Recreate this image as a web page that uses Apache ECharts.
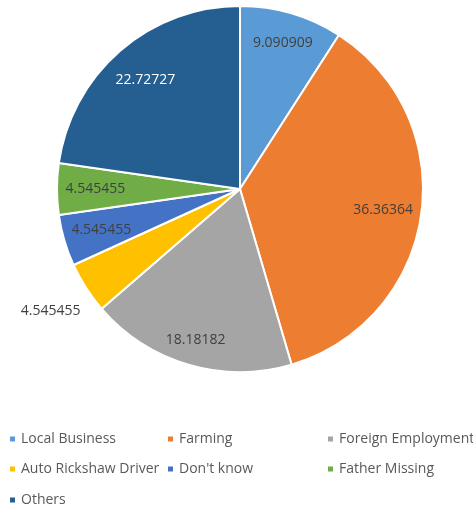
<!DOCTYPE html>
<html><head><meta charset="utf-8">
<script src="https://cdn.jsdelivr.net/npm/echarts@6/dist/echarts.min.js"></script>
<style>html,body{margin:0;padding:0;background:#fff}#c{width:473px;height:506px}</style>
</head><body><div id="c"></div>
<script>
const categories = ['Local Business','Farming','Foreign Employment','Auto Rickshaw Driver',"Don't know",'Father Missing','Others'];
const values = [9.090909, 36.36364, 18.18182, 4.545455, 4.545455, 4.545455, 22.72727];

const colors = ['#5B9BD5','#ED7D31','#A5A5A5','#FFC000','#4472C4','#70AD47','#255E91'];
const labelColors = ['#404040','#404040','#404040','#404040','#404040','#404040','#FFFFFF'];
const CX = 240, CY = 189, R = 183;
// label distance from center, as fraction of radius
const labelDist = [0.83, 0.79, 0.86, 1.23, 0.79, 0.79, 0.79];
const legendCols = [8, 166, 326];
const legendRows = [432, 462, 493];

const chart = echarts.init(document.getElementById('c'));
const legends = categories.map((name, i) => ({
  data: [name],
  left: legendCols[i % 3],
  top: legendRows[Math.floor(i / 3)],
  icon: 'rect', itemWidth: 7, itemHeight: 7, padding: 0,
  selectedMode: false,
  textStyle: { fontFamily: 'Open Sans', fontSize: 14, color: '#595959' }
}));
chart.setOption({
  animation: false,
  color: colors,
  legend: legends,
  series: [{
    type: 'pie',
    center: [CX, CY],
    radius: R,
    startAngle: 90,
    clockwise: true,
    data: categories.map((n, i) => ({ name: n, value: values[i], label: { color: labelColors[i] } })),
    itemStyle: { borderColor: '#fff', borderWidth: 2 },
    label: {
      show: true, position: 'inside',
      formatter: p => String(p.value),
      fontFamily: 'Open Sans', fontSize: 14, color: '#404040'
    },
    labelLine: { show: false },
    labelLayout: function (p) {
      const r = p.labelRect;
      const lx = r.x + r.width / 2, ly = r.y + r.height / 2;
      const dx = lx - CX, dy = ly - CY;
      const d = Math.sqrt(dx * dx + dy * dy) || 1;
      const k = labelDist[p.dataIndex] * R / d;
      return { x: CX + dx * k, y: CY + dy * k, align: 'center', verticalAlign: 'middle' };
    }
  }]
});
</script></body></html>
